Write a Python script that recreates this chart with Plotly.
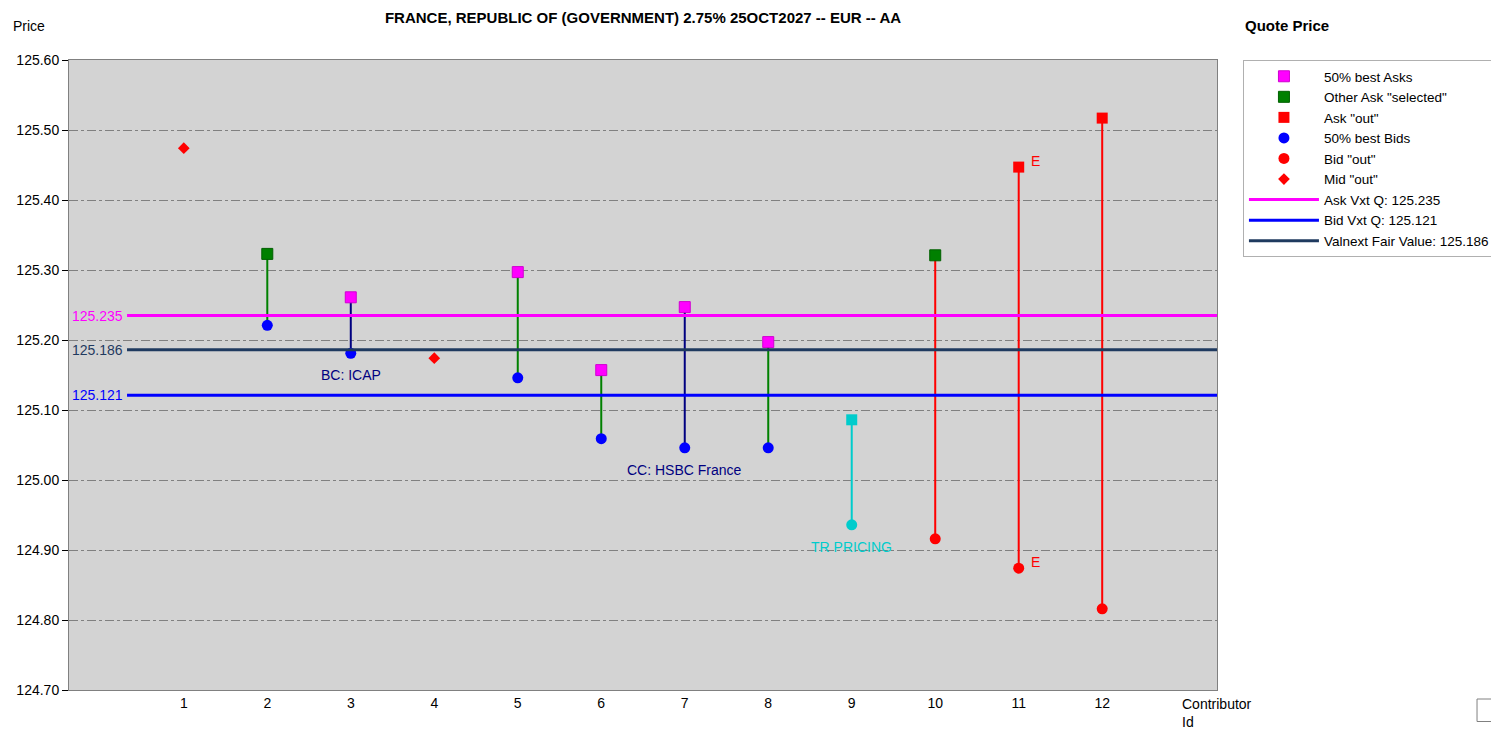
import plotly.graph_objects as go

# ---------------- data ----------------
contributors = [1, 2, 3, 4, 5, 6, 7, 8, 9, 10, 11, 12]
ask_prices = [None, 125.323, 125.261, None, 125.297, 125.157, 125.247, 125.197, 125.086, 125.321, 125.447, 125.517]
bid_prices = [None, 125.221, 125.181, None, 125.146, 125.059, 125.046, 125.046, 124.936, 124.916, 124.874, 124.816]
mid_prices = [125.474, None, None, 125.174, None, None, None, None, None, None, None, None]

# classification of each contributor's quotes
ask_class = [None, "other", "best", None, "best", "best", "best", "best", "tr", "other", "out", "out"]
bid_class = [None, "best", "best", None, "best", "best", "best", "best", "tr", "out", "out", "out"]
line_class = [None, "green", "navy", None, "green", "green", "navy", "green", "cyan", "red", "red", "red"]

ask_vxt_q = 125.235
bid_vxt_q = 125.121
fair_value = 125.186

x_tick_labels = [str(c) for c in contributors]
y_ticks = [124.70, 124.80, 124.90, 125.00, 125.10, 125.20, 125.30, 125.40, 125.50, 125.60]

contributor_labels = {3: "BC: ICAP", 7: "CC: HSBC France", 9: "TR PRICING"}
e_flags = [11]

# ---------------- styling ----------------
FONT = "Liberation Sans, Arial, sans-serif"
C_MAGENTA = "#FF00FF"
C_GREEN = "#008000"
C_RED = "#FF0000"
C_BLUE = "#0000FF"
C_NAVY = "#000080"
C_CYAN = "#00CCCC"
C_FAIR = "#1F3A5F"
line_colors = {"green": C_GREEN, "navy": C_NAVY, "cyan": C_CYAN, "red": C_RED}

X_MIN, X_MAX = -0.375, 13.375
REF_LINE_START = 0.32

fig = go.Figure()

# vertical ask-bid segments
for key, col in line_colors.items():
    xs, ys = [], []
    for c, a, b, lc in zip(contributors, ask_prices, bid_prices, line_class):
        if lc == key:
            xs += [c, c, None]
            ys += [a, b, None]
    fig.add_trace(go.Scatter(x=xs, y=ys, mode="lines", line=dict(color=col, width=2),
                             showlegend=False, hoverinfo="skip"))

def pts(vals, classes, target):
    xs, ys = [], []
    for c, v, k in zip(contributors, vals, classes):
        if k == target:
            xs.append(c)
            ys.append(v)
    return xs, ys

# markers
x, y = pts(ask_prices, ask_class, "best")
fig.add_trace(go.Scatter(x=x, y=y, mode="markers", name="50% best Asks",
                         marker=dict(symbol="square", size=11, color=C_MAGENTA, line=dict(color="#D000D0", width=1))))
x, y = pts(ask_prices, ask_class, "other")
fig.add_trace(go.Scatter(x=x, y=y, mode="markers", name='Other Ask "selected"',
                         marker=dict(symbol="square", size=11, color=C_GREEN, line=dict(color="#006000", width=1))))
x, y = pts(ask_prices, ask_class, "out")
fig.add_trace(go.Scatter(x=x, y=y, mode="markers", name='Ask "out"',
                         marker=dict(symbol="square", size=11, color=C_RED, line=dict(width=0))))
x, y = pts(bid_prices, bid_class, "best")
fig.add_trace(go.Scatter(x=x, y=y, mode="markers", name="50% best Bids",
                         marker=dict(symbol="circle", size=11, color=C_BLUE, line=dict(width=0))))
x, y = pts(bid_prices, bid_class, "out")
fig.add_trace(go.Scatter(x=x, y=y, mode="markers", name='Bid "out"',
                         marker=dict(symbol="circle", size=11, color=C_RED, line=dict(width=0))))
mx = [c for c, m in zip(contributors, mid_prices) if m is not None]
my = [m for m in mid_prices if m is not None]
fig.add_trace(go.Scatter(x=mx, y=my, mode="markers", name='Mid "out"',
                         marker=dict(symbol="diamond", size=9, color=C_RED, line=dict(width=0))))
# TR pricing (cyan), not in legend
x, y = pts(ask_prices, ask_class, "tr")
fig.add_trace(go.Scatter(x=x, y=y, mode="markers", showlegend=False,
                         marker=dict(symbol="square", size=11, color=C_CYAN, line=dict(width=0))))
x, y = pts(bid_prices, bid_class, "tr")
fig.add_trace(go.Scatter(x=x, y=y, mode="markers", showlegend=False,
                         marker=dict(symbol="circle", size=11, color=C_CYAN, line=dict(width=0))))

# reference horizontal lines
for val, col, name in [(ask_vxt_q, C_MAGENTA, f"Ask Vxt Q: {ask_vxt_q:.3f}"),
                       (bid_vxt_q, C_BLUE, f"Bid Vxt Q: {bid_vxt_q:.3f}"),
                       (fair_value, C_FAIR, f"Valnext Fair Value: {fair_value:.3f}")]:
    fig.add_trace(go.Scatter(x=[REF_LINE_START, X_MAX], y=[val, val], mode="lines", name=name,
                             line=dict(color=col, width=3), hoverinfo="skip"))
    fig.add_annotation(x=REF_LINE_START, y=val, xref="x", yref="y", text=f"{val:.3f}",
                       showarrow=False, xanchor="right", xshift=-2,
                       font=dict(family=FONT, size=14, color=col))

# contributor labels
for c, txt in contributor_labels.items():
    idx = contributors.index(c)
    col = C_CYAN if line_class[idx] == "cyan" else C_NAVY
    fig.add_annotation(x=c, y=bid_prices[idx], text=txt, showarrow=False, yanchor="top", yshift=-12,
                       font=dict(family=FONT, size=14, color=col))
for c in e_flags:
    idx = contributors.index(c)
    for v in (ask_prices[idx], bid_prices[idx]):
        fig.add_annotation(x=c, y=v, text="E", showarrow=False, xanchor="left", xshift=10, yshift=6,
                           font=dict(family=FONT, size=14, color=C_RED))

# text annotations outside plot
fig.add_annotation(x=0, y=1, xref="paper", yref="paper", text="Price", showarrow=False,
                   xanchor="left", yanchor="bottom", xshift=-58, yshift=24,
                   font=dict(family=FONT, size=14, color="black"))
fig.add_annotation(x=X_MAX, y=0, xref="x", yref="paper", text="Contributor<br>Id", showarrow=False,
                   xanchor="center", yanchor="top", yshift=-4, align="left",
                   font=dict(family=FONT, size=14, color="black"))
fig.add_annotation(x=1.0226, y=1, xref="paper", yref="paper", text="<b>Quote Price</b>", showarrow=False,
                   xanchor="left", yanchor="bottom", yshift=24,
                   font=dict(family=FONT, size=15, color="black"))

# checkbox
fig.add_shape(type="rect", xref="paper", yref="paper", x0=1.2265, x1=1.2395, y0=-0.050, y1=-0.0143,
              line=dict(color="#808080", width=1), fillcolor="white")

fig.update_layout(
    width=1491, height=729,
    paper_bgcolor="white", plot_bgcolor="#D3D3D3",
    margin=dict(l=61, r=282, t=52, b=47, autoexpand=False),
    title=dict(text="<b>FRANCE, REPUBLIC OF (GOVERNMENT) 2.75% 25OCT2027 -- EUR -- AA</b>",
               x=0.5, xref="paper", xanchor="center", y=1, yref="paper", yanchor="bottom", pad=dict(b=37),
               font=dict(family=FONT, size=15, color="black")),
    showlegend=True,
    legend=dict(x=1.0226, y=1, xanchor="left", yanchor="top", bgcolor="white",
                bordercolor="#B0B0B0", borderwidth=1, font=dict(family=FONT, size=13.5, color="black"),
                tracegroupgap=0, itemwidth=70, entrywidth=250),
    font=dict(family=FONT, size=14, color="black"),
)
fig.update_xaxes(range=[X_MIN, X_MAX], tickvals=contributors, ticktext=x_tick_labels,
                 showgrid=False, zeroline=False, showline=True, mirror=True, linecolor="#808080",
                 linewidth=1, ticks="", tickfont=dict(family=FONT, size=14, color="black"))
fig.update_yaxes(range=[124.70, 125.60], tickvals=y_ticks, ticktext=[f"{v:.2f}" for v in y_ticks],
                 showgrid=True, gridcolor="#808080", gridwidth=1, griddash="dashdot",
                 zeroline=False, showline=True, mirror=True, linecolor="#808080", linewidth=1,
                 ticks="outside", ticklen=6, tickcolor="black",
                 tickfont=dict(family=FONT, size=14, color="black"))

fig.write_html("out.html")
